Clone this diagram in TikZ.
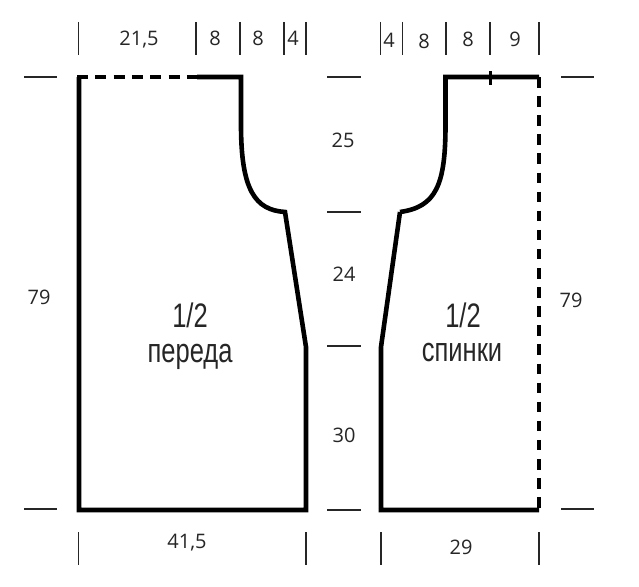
\documentclass[tikz,border=0pt]{standalone}
\usepackage{fontspec}
\setmainfont{Open Sans}
\newfontfamily\narrowfont{Liberation Sans}
\tikzset{
  seam/.style={line width=4.6pt, line cap=butt, line join=miter},
  foldline/.style={line width=4.6pt, dash pattern=on 10.5pt off 8.6pt},
  topdash/.style={line width=4.6pt, dash pattern=on 11pt off 7.3pt},
  marker/.style={line width=1.2pt, black!85},
  size/.style={inner sep=0pt, font=\fontsize{20}{24}\selectfont, text=black!85},
  piece/.style={inner sep=0pt, anchor=base, xscale=0.75, font=\narrowfont\fontsize{34}{38}\selectfont, text=black!85}
}
\begin{document}
\begin{tikzpicture}[x=1pt,y=-1pt]
        \useasboundingbox (0,0) rectangle (639,586);

        % corners of the front
        \coordinate (F1) at (79,510);
        \coordinate (F2) at (79,77);
        \coordinate (F3) at (197,77);
        \coordinate (F4) at (241,77);
        \coordinate (F5) at (241,125);
        \coordinate (F6) at (285,212);
        \coordinate (F7) at (306,347);
        \coordinate (F8) at (306,510);

        % corners of the back
        \coordinate (B1) at (381,510);
        \coordinate (B2) at (381,347);
        \coordinate (B3) at (400,212);
        \coordinate (B4) at (445.5,125);
        \coordinate (B5) at (445.5,77);
        \coordinate (B6) at (539,77);
        \coordinate (B7) at (539,510);

        % front outline
        \draw[seam] (F3) -- (F4) -- (F5) .. controls (241,190) and (255,210) .. (F6) -- (F7) -- (F8) -- (F1) -- (F2);
        \draw[topdash] (77,77) -- (F3);

        % back outline
        \draw[seam] (B3) -- (B2) -- (B1) -- (B7);
        \draw[seam] (B3) .. controls (436,207) and (445.5,185) .. (B4) -- (B5) -- (B6);
        \draw[foldline] (B6) -- (B7);

        % shoulder mark on the back
        \coordinate (S1) at (490,71);
        \coordinate (S2) at (490,85);
        \draw[line width=3pt] (S1) -- (S2);

        % vertical marks on top
        \foreach \x in {78.5,196,240,284,306,380.5,402.5,446,490,539}
          \draw[marker] (\x,22) -- (\x,55);

        % vertical marks at the bottom
        \foreach \x in {78.5,306,381,539}
          \draw[marker] (\x,532) -- (\x,565);

        % horizontal marks
        \foreach \y in {77,509}
          \draw[marker] (24,\y) -- (57,\y);
        \foreach \y in {77,212,346,510}
          \draw[marker] (327,\y) -- (361,\y);
        \foreach \y in {77,509}
          \draw[marker] (561,\y) -- (594,\y);

        % write sizes on top
        \node[size] (top215) at (139,40) {21,5};
        \node[size] (top8a) at (215,38) {8};
        \node[size] (top8b) at (258,38) {8};
        \node[size] (top4a) at (293,38) {4};
        \node[size] (top4b) at (389,40) {4};
        \node[size] (top8c) at (424,41) {8};
        \node[size] (top8d) at (468,39) {8};
        \node[size] (top9) at (515,39) {9};

        % write sizes in the middle
        \node[size] (mid25) at (343,140) {25};
        \node[size] (mid24) at (344,274) {24};
        \node[size] (mid30) at (344,435) {30};

        % write length and bottom sizes
        \node[size] (left79) at (39,297) {79};
        \node[size] (right79) at (571,300) {79};
        \node[size] (bot415) at (187,543) {41,5};
        \node[size] (bot29) at (461,547) {29};

        % write names of the pieces
        \node[piece] (fronthalf) at (190,327) {1/2};
        \node[piece] (frontname) at (190,362) {переда};
        \node[piece] (backhalf) at (463,327) {1/2};
        \node[piece] (backname) at (462,361) {спинки};
\end{tikzpicture}
\end{document}
